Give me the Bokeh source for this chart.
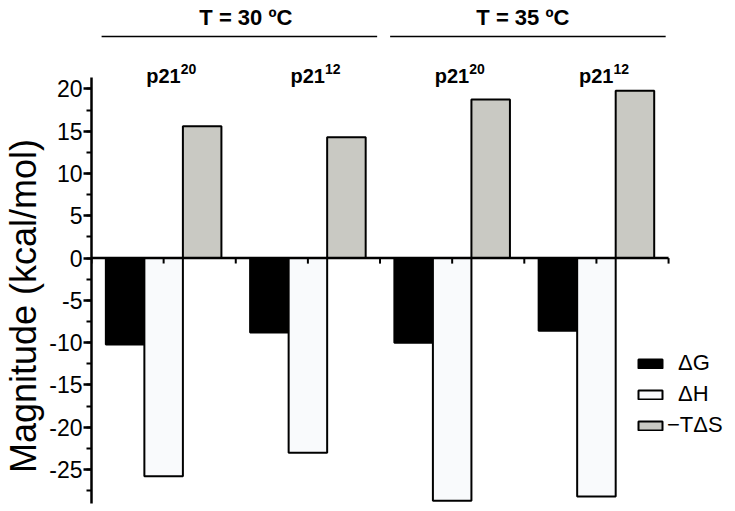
import numpy as np
from bokeh.plotting import figure
from bokeh.models import Range1d, SingleIntervalTicker, Legend, LegendItem, ColumnDataSource
from bokeh.core.properties import value
from bokeh.embed import file_html
from bokeh.resources import INLINE

# ---- data ----
temperatures = ["T = 30 ºC", "T = 35 ºC"]
proteins = ["p21", "p21", "p21", "p21"]
superscripts = ["20", "12", "20", "12"]
dG = [-10.2, -8.8, -10.0, -8.6]
dH = [-25.8, -23.0, -28.7, -28.2]
mTdS = [15.6, 14.3, 18.75, 19.8]
series_labels = ["ΔG", "ΔH", "−TΔS"]
y_ticks = [-25, -20, -15, -10, -5, 0, 5, 10, 15, 20]
y_label = "Magnitude (kcal/mol)"

FONT = "Liberation Sans"
n = len(dG)
centers = np.arange(n) + 0.5
bw = 0.267

p = figure(width=735, height=511, output_backend="svg", toolbar_location=None,
           x_range=Range1d(0, 4.464), y_range=Range1d(-29.96, 30.46),
           x_axis_type=None, min_border_left=90, min_border_right=0,
           min_border_top=0, min_border_bottom=0)
p.outline_line_color = None
p.grid.visible = False
p.background_fill_color = "white"

ax = p.yaxis[0]
ax.ticker = SingleIntervalTicker(interval=5, num_minor_ticks=2)
ax.major_label_overrides = {t: str(t) for t in y_ticks}
ax.bounds = (-29.05, 21.35)
ax.axis_line_width = 2.5
ax.axis_line_color = "black"
ax.major_tick_line_width = 2.5
ax.minor_tick_line_width = 2
ax.major_tick_out = 8
ax.major_tick_in = 0
ax.minor_tick_out = 5
ax.minor_tick_in = 0
ax.major_label_standoff = 1
ax.major_label_text_font = FONT
ax.major_label_text_font_size = "23px"
ax.major_label_text_color = "black"
# trailing no-break spaces shift the centred title down toward the reference position
ax.axis_label = y_label + "\u00a0" * 10
ax.axis_label_text_font = FONT
ax.axis_label_text_font_style = "normal"
ax.axis_label_text_font_size = "36px"
ax.axis_label_text_color = "black"
ax.axis_label_standoff = 2

colors = ["#000000", "#f9fafc", "#c9c9c3"]
renderers = []
for k, (vals, col) in enumerate(zip([dG, dH, mTdS], colors)):
    src = ColumnDataSource(dict(x=centers + (k - 1) * bw, top=vals))
    r = p.vbar(x="x", top="top", bottom=0, width=bw, source=src,
               fill_color=col, line_color="black", line_width=2)
    renderers.append(r)

# zero line with ticks
p.segment(x0=[0], y0=[0], x1=[n], y1=[0], line_color="black", line_width=2.5)
tick_x = np.arange(0, n + 0.01, 0.5)
p.segment(x0=tick_x, y0=0, x1=tick_x, y1=-0.65, line_color="black", line_width=2)

# temperature headers
pair_start = np.array([0, 2])
pair_end = np.array([2, 4])
p.segment(x0=pair_start + 0.07, y0=26.2, x1=pair_end - 0.02, y1=26.2,
          line_color="black", line_width=1.5)
p.text(x=(pair_start + pair_end) / 2 + np.array([0.07, -0.01]), y=28.5, text=temperatures,
       text_align="center", text_baseline="alphabetic",
       text_font=value(FONT), text_font_style="bold", text_font_size="22px",
       text_color="black")

# protein labels with superscripts
p.text(x=centers, y=21.5, text=proteins, text_align="right", x_offset=17,
       text_baseline="alphabetic", text_font=value(FONT), text_font_style="bold",
       text_font_size="20px", text_color="black")
p.text(x=centers, y=21.5, text=superscripts, text_align="left", x_offset=17, y_offset=-7,
       text_baseline="alphabetic", text_font=value(FONT), text_font_style="bold",
       text_font_size="14px", text_color="black")

legend = Legend(items=[LegendItem(label=lab, renderers=[r])
                       for lab, r in zip(["\u2002" + series_labels[0], "\u2002" + series_labels[1], series_labels[2]], renderers)],
                location=(544, 73))
legend.glyph_width = 30
legend.glyph_height = 11
legend.label_standoff = 2
legend.spacing = 5
legend.padding = 0
legend.margin = 0
legend.border_line_color = None
legend.background_fill_alpha = 0
legend.label_text_font = FONT
legend.label_text_font_size = "22px"
legend.label_text_color = "black"
p.add_layout(legend)

open("out.html", "w").write(file_html(p, INLINE))
